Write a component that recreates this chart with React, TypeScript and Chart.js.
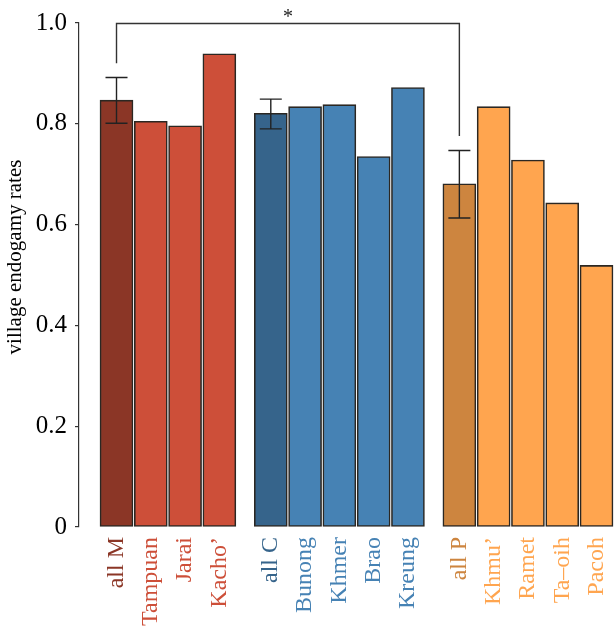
import React, { useEffect, useRef } from "react";
import { Chart, registerables } from "chart.js";

Chart.register(...registerables);

const categories = ["all M", "Tampuan", "Jarai", "Kacho\u2019", "all C", "Bunong", "Khmer", "Brao", "Kreung", "all P", "Khmu\u2019", "Ramet", "Ta\u2013oih", "Pacoh"];
const values = [0.847, 0.805, 0.796, 0.939, 0.821, 0.834, 0.838, 0.735, 0.872, 0.681, 0.834, 0.728, 0.643, 0.519];
const groups = ["M", "M", "M", "M", "C", "C", "C", "C", "C", "P", "P", "P", "P", "P"];
const groupOrder = ["M", "C", "P"];

const errorCategories = ["all M", "all C", "all P"];
const errorLow = [0.801, 0.79, 0.613];
const errorHigh = [0.892, 0.849, 0.747];

const bracketFrom = "all M";
const bracketTo = "all P";
const bracketLevel = 1.0;
const bracketEnds = [0.92, 0.776];
const bracketLabel = "*";

const yTicks = [0, 0.2, 0.4, 0.6, 0.8, 1.0];
const yTitle = "village endogamy rates";

const summaryColors: Record<string, string> = { M: "#8B3626", C: "#36648B", P: "#CD853F" };
const memberColors: Record<string, string> = { M: "#CD4F39", C: "#4682B4", P: "#FFA54F" };

const xPos = categories.map((_, i) => i + 0.5 * groupOrder.indexOf(groups[i]));
const colors = categories.map((c, i) => (c.startsWith("all ") ? summaryColors[groups[i]] : memberColors[groups[i]]));

const FONT = "'Liberation Serif', 'Times New Roman', serif";

const annotPlugin = {
  id: "annot",
  afterDatasetsDraw(chart: any) {
    const { ctx, scales } = chart;
    const x = scales.x;
    const y = scales.y;
    ctx.save();
    ctx.strokeStyle = "#222";
    ctx.lineWidth = 1.4;
    errorCategories.forEach((c, k) => {
      const i = categories.indexOf(c);
      const px = x.getPixelForValue(xPos[i]);
      const yl = y.getPixelForValue(errorLow[k]);
      const yh = y.getPixelForValue(errorHigh[k]);
      ctx.beginPath();
      ctx.moveTo(px, yl);
      ctx.lineTo(px, yh);
      ctx.moveTo(px - 11, yl);
      ctx.lineTo(px + 11, yl);
      ctx.moveTo(px - 11, yh);
      ctx.lineTo(px + 11, yh);
      ctx.stroke();
    });
    const i1 = categories.indexOf(bracketFrom);
    const i2 = categories.indexOf(bracketTo);
    const x1 = x.getPixelForValue(xPos[i1]);
    const x2 = x.getPixelForValue(xPos[i2]);
    const yb = y.getPixelForValue(bracketLevel) + 0.5;
    ctx.strokeStyle = "#333";
    ctx.beginPath();
    ctx.moveTo(x1, y.getPixelForValue(bracketEnds[0]));
    ctx.lineTo(x1, yb);
    ctx.lineTo(x2, yb);
    ctx.lineTo(x2, y.getPixelForValue(bracketEnds[1]));
    ctx.stroke();
    ctx.fillStyle = "#222";
    ctx.font = `20px ${FONT}`;
    ctx.textAlign = "center";
    ctx.textBaseline = "alphabetic";
    ctx.fillText(bracketLabel, (x1 + x2) / 2, yb - 1);
    // y-axis title
    ctx.save();
    ctx.translate(15, 257);
    ctx.rotate(-Math.PI / 2);
    ctx.fillStyle = "#000";
    ctx.font = `21px ${FONT}`;
    ctx.textAlign = "center";
    ctx.textBaseline = "middle";
    ctx.fillText(yTitle, 0, 0);
    ctx.restore();
    ctx.restore();
  },
};

export default function App() {
  const ref = useRef<HTMLCanvasElement>(null);
  useEffect(() => {
    if (!ref.current) return;
    const chart = new Chart(ref.current, {
      type: "bar",
      data: {
        datasets: [
          {
            data: categories.map((_, i) => ({ x: xPos[i], y: values[i] })),
            backgroundColor: colors,
            borderColor: "rgba(20,15,10,0.9)",
            borderWidth: 1.6,
            borderSkipped: false,
            barThickness: 33,
          },
        ],
      },
      options: {
        animation: false,
        responsive: false,
        layout: { padding: { top: 20, left: 0, right: 0, bottom: 0 } },
        plugins: { legend: { display: false }, tooltip: { enabled: false } },
        scales: {
          x: {
            type: "linear",
            min: -1.094,
            max: 14.51,
            offset: false,
            grid: { display: false },
            border: { display: false },
            afterBuildTicks: (scale: any) => {
              scale.ticks = xPos.map((v) => ({ value: v }));
            },
            afterFit: (scale: any) => {
              scale.height = 102;
              scale.paddingLeft = 0;
              scale.paddingRight = 0;
            },
            ticks: {
              autoSkip: false,
              maxRotation: 90,
              minRotation: 90,
              padding: 2,
              font: { family: FONT, size: 24 },
              color: (c: any) => colors[c.index] || "#000",
              callback: (_v: any, idx: number) => categories[idx],
            },
          },
          y: {
            min: 0,
            max: 1,
            afterBuildTicks: (scale: any) => {
              scale.ticks = yTicks.map((v) => ({ value: v }));
            },
            afterFit: (scale: any) => {
              scale.width = 79;
            },
            grid: { display: true, drawOnChartArea: false, drawTicks: true, tickLength: 4, color: "#333", lineWidth: 1.2 },
            border: { display: true, color: "#333", width: 1.2 },
            title: { display: false },
            ticks: {
              padding: 8,
              font: { family: FONT, size: 25 },
              color: "#000",
              callback: (v: any) => (v === 0 ? "0" : Number(v).toFixed(1)),
            },
          },
        },
      },
      plugins: [annotPlugin],
    });
    return () => chart.destroy();
  }, []);
  return (
    <div style={{ position: "absolute", left: 0, top: 0, width: 614, height: 629 }}>
      <canvas ref={ref} width={614} height={629} style={{ display: "block" }} />
    </div>
  );
}
